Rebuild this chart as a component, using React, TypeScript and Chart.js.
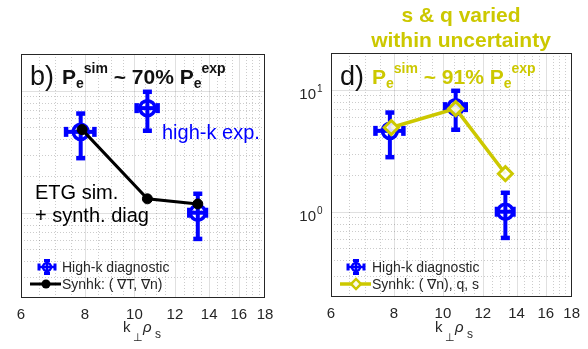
import React, { useEffect, useRef } from 'react';
import { Chart, registerables } from 'chart.js';
Chart.register(...registerables);

// ---------- data ----------
const xTicks = [6, 8, 10, 12, 14, 16, 18];
const xTickLabels = ['6', '8', '10', '12', '14', '16', '18'];
const xMinorGrid = [6.5, 7, 7.5, 8.5, 9, 9.5, 10.5, 11, 11.5, 12.5, 13, 13.5, 14.5, 15, 15.5, 16.5, 17, 17.5];
const yMajorGrid = [1, 10];
const yMinorGrid = [0.3, 0.4, 0.5, 0.6, 0.7, 0.8, 0.9, 2, 3, 4, 5, 6, 7, 8, 9];
const yTickValues = [1, 10];
const yTickExponents = ['0', '1'];

const kHighk = [7.85, 10.6, 13.3];
const pHighk = [4.6, 7.2, 1.0];
const pHighkLow = [2.8, 4.7, 0.61];
const pHighkHigh = [6.5, 9.8, 1.43];
const kHighkErr = [0.5, 0.5, 0.5];

const kSynB = [7.9, 10.6, 13.3];
const pSynB = [4.8, 1.3, 1.18];
const kSynD = [7.9, 10.6, 13.3];
const pSynD = [4.9, 7.0, 2.05];

// ---------- styles ----------
const FF = '"Liberation Sans", Arial, Helvetica, sans-serif';
const BLUE = '#0000ff';
const OLIVE = 'rgb(204,200,0)';
const INK = '#262626';

type Seg = { t: string; f: string; dy?: number; c?: string; x?: number };
function rich(ctx: CanvasRenderingContext2D, x: number, y: number, segs: Seg[], color: string) {
  let cx = x;
  ctx.textAlign = 'left';
  ctx.textBaseline = 'alphabetic';
  for (const s of segs) {
    if (s.x !== undefined) cx = s.x;
    ctx.font = s.f;
    ctx.fillStyle = s.c || color;
    ctx.fillText(s.t, cx, y + (s.dy || 0));
    cx += ctx.measureText(s.t).width;
  }
}

function line(ctx: CanvasRenderingContext2D, x1: number, y1: number, x2: number, y2: number) {
  ctx.beginPath();
  ctx.moveTo(x1, y1);
  ctx.lineTo(x2, y2);
  ctx.stroke();
}

function errIcon(ctx: CanvasRenderingContext2D, cx: number, cy: number) {
  ctx.strokeStyle = BLUE;
  ctx.lineWidth = 2.5;
  line(ctx, cx - 8, cy, cx + 8, cy);
  line(ctx, cx, cy - 6.5, cx, cy + 6.5);
  ctx.lineWidth = 3;
  line(ctx, cx - 8, cy - 3.5, cx - 8, cy + 3.5);
  line(ctx, cx + 8, cy - 3.5, cx + 8, cy + 3.5);
  line(ctx, cx - 3, cy - 6.5, cx + 3, cy - 6.5);
  line(ctx, cx - 3, cy + 6.5, cx + 3, cy + 6.5);
  ctx.lineWidth = 2.5;
  ctx.beginPath();
  ctx.arc(cx, cy, 4, 0, Math.PI * 2);
  ctx.stroke();
}

function axisTitle(ctx: CanvasRenderingContext2D, x: number) {
  rich(ctx, x, 332, [{ t: 'k', f: `15px ${FF}` }], INK);
  rich(ctx, x + 10, 341, [{ t: '⊥', f: `11px "DejaVu Sans", ${FF}` }], INK);
  rich(ctx, x + 20, 332, [{ t: 'ρ', f: `italic 15px ${FF}` }], INK);
  rich(ctx, x + 32, 338, [{ t: 's', f: `12px ${FF}` }], INK);
}

type Panel = {
  left: number;
  width: number;
  padTop: number;
  padRight: number;
  yAxisWidth: number;
  xAxisHeight: number;
  synK: number[];
  synP: number[];
  synColor: string;
  synStyle: string;
  synRadius: number;
  synBorder: number;
  synFill: string;
  synLineWidth: number;
  decorate: (ctx: CanvasRenderingContext2D, chart: any) => void;
};

function titleSegs(pct: string, lead: string, leadX: number): Seg[] {
  return [
    { t: lead, f: `27px ${FF}`, x: leadX, c: '#111', dy: 1 },
    { t: 'P', f: `bold 21px ${FF}`, x: leadX + 32 },
    { t: 'e', f: `bold 14px ${FF}`, dy: 4 },
    { t: 'sim', f: `bold 14px ${FF}`, dy: -11 },
    { t: ` ~ ${pct} `, f: `bold 21px ${FF}` },
    { t: 'P', f: `bold 21px ${FF}` },
    { t: 'e', f: `bold 14px ${FF}`, dy: 4 },
    { t: 'exp', f: `bold 14px ${FF}`, dy: -11 },
  ];
}

const panelB: Panel = {
  left: 0,
  width: 290,
  padTop: 54,
  padRight: 25,
  yAxisWidth: 21,
  xAxisHeight: 51,
  synK: kSynB,
  synP: pSynB,
  synColor: '#000000',
  synStyle: 'circle',
  synRadius: 5,
  synBorder: 1,
  synFill: '#000000',
  synLineWidth: 3,
  decorate: (ctx) => {
    rich(ctx, 0, 84, titleSegs('70%', 'b)', 30), '#111');
    rich(ctx, 162, 139, [{ t: 'high-k exp.', f: `20px ${FF}` }], BLUE);
    rich(ctx, 35, 199, [{ t: 'ETG sim.', f: `20px ${FF}` }], '#000');
    rich(ctx, 35, 222, [{ t: '+ synth. diag', f: `20px ${FF}` }], '#000');
    // legend
    errIcon(ctx, 47, 267);
    rich(ctx, 62, 272, [{ t: 'High-k diagnostic', f: `14px ${FF}` }], INK);
    ctx.strokeStyle = '#000';
    ctx.lineWidth = 3;
    line(ctx, 30, 284, 61, 284);
    ctx.fillStyle = '#000';
    ctx.beginPath();
    ctx.arc(46, 284, 4.5, 0, Math.PI * 2);
    ctx.fill();
    rich(ctx, 62, 289, [{ t: 'Synhk: ( ∇T, ∇n)', f: `14px ${FF}` }], INK);
    axisTitle(ctx, 123);
  },
};

const panelD: Panel = {
  left: 290,
  width: 298,
  padTop: 53,
  padRight: 10,
  yAxisWidth: 41,
  xAxisHeight: 52,
  synK: kSynD,
  synP: pSynD,
  synColor: OLIVE,
  synStyle: 'rectRot',
  synRadius: 7,
  synBorder: 3,
  synFill: 'rgba(255,255,255,0.85)',
  synLineWidth: 3.5,
  decorate: (ctx, chart) => {
    ctx.font = `bold 21px ${FF}`;
    ctx.fillStyle = OLIVE;
    ctx.textAlign = 'center';
    ctx.textBaseline = 'alphabetic';
    ctx.fillText('s & q varied', 461, 22);
    ctx.fillText('within uncertainty', 461, 47);
    rich(ctx, 0, 84, titleSegs('91%', 'd)', 340), OLIVE);
    // y tick labels
    const y = chart.scales.y;
    yTickValues.forEach((v, i) => {
      const py = y.getPixelForValue(v);
      ctx.font = `15px ${FF}`;
      ctx.fillStyle = INK;
      ctx.textAlign = 'right';
      ctx.fillText('10', 316, py + 9);
      ctx.font = `10px ${FF}`;
      ctx.textAlign = 'left';
      ctx.fillText(yTickExponents[i], 317, py + 2);
    });
    // legend
    errIcon(ctx, 356, 267);
    rich(ctx, 372, 272, [{ t: 'High-k diagnostic', f: `14px ${FF}` }], INK);
    ctx.strokeStyle = OLIVE;
    ctx.lineWidth = 3.5;
    line(ctx, 340, 284, 371, 284);
    ctx.save();
    ctx.translate(356, 284);
    ctx.rotate(Math.PI / 4);
    ctx.fillStyle = 'rgba(255,255,255,0.9)';
    ctx.fillRect(-3.5, -3.5, 7, 7);
    ctx.lineWidth = 2.5;
    ctx.strokeRect(-3.5, -3.5, 7, 7);
    ctx.restore();
    rich(ctx, 372, 289, [{ t: 'Synhk: ( ∇n), q, s', f: `14px ${FF}` }], INK);
    axisTitle(ctx, 435);
  },
};

function makePlugin(p: Panel) {
  return {
    id: 'panelDecor',
    beforeDatasetsDraw(chart: any) {
      const { ctx, chartArea: a, scales } = chart;
      const x = scales.x;
      const y = scales.y;
      ctx.save();
      ctx.beginPath();
      ctx.rect(a.left, a.top, a.right - a.left, a.bottom - a.top);
      ctx.clip();
      // minor grid (dotted)
      ctx.strokeStyle = 'rgba(0,0,0,0.2)';
      ctx.lineWidth = 1;
      ctx.setLineDash([1, 2]);
      xMinorGrid.forEach((v) => {
        const px = Math.round(x.getPixelForValue(v)) + 0.5;
        line(ctx, px, a.top, px, a.bottom);
      });
      yMinorGrid.forEach((v) => {
        const py = Math.round(y.getPixelForValue(v)) + 0.5;
        line(ctx, a.left, py, a.right, py);
      });
      // major grid (solid)
      ctx.setLineDash([]);
      ctx.strokeStyle = 'rgba(0,0,0,0.12)';
      xTicks.forEach((v) => {
        const px = Math.round(x.getPixelForValue(v)) + 0.5;
        line(ctx, px, a.top, px, a.bottom);
      });
      yMajorGrid.forEach((v) => {
        const py = Math.round(y.getPixelForValue(v)) + 0.5;
        line(ctx, a.left, py, a.right, py);
      });
      ctx.restore();

      // error bars of high-k data
      ctx.save();
      ctx.strokeStyle = BLUE;
      ctx.lineCap = 'butt';
      kHighk.forEach((k, i) => {
        const cx = x.getPixelForValue(k);
        const cy = y.getPixelForValue(pHighk[i]);
        const yt = y.getPixelForValue(pHighkHigh[i]);
        const yb = y.getPixelForValue(pHighkLow[i]);
        const xl = x.getPixelForValue(k - kHighkErr[i]);
        const xr = x.getPixelForValue(k + kHighkErr[i]);
        ctx.lineWidth = 4;
        line(ctx, cx, yt, cx, yb);
        line(ctx, xl, cy, xr, cy);
        ctx.lineWidth = 4.5;
        line(ctx, cx - 4.5, yt, cx + 4.5, yt);
        line(ctx, cx - 4.5, yb, cx + 4.5, yb);
        line(ctx, xl, cy - 5, xl, cy + 5);
        line(ctx, xr, cy - 5, xr, cy + 5);
      });
      ctx.restore();
    },
    afterDatasetsDraw(chart: any) {
      const { ctx, chartArea: a } = chart;
      ctx.save();
      ctx.strokeStyle = INK;
      ctx.lineWidth = 1;
      ctx.setLineDash([]);
      ctx.strokeRect(Math.round(a.left) + 0.5, Math.round(a.top) + 0.5, Math.round(a.right - a.left) - 1, Math.round(a.bottom - a.top) - 1);
      ctx.translate(-p.left, 0);
      p.decorate(ctx, chart);
      ctx.restore();
    },
  };
}

function PanelChart({ p }: { p: Panel }) {
  const ref = useRef<HTMLCanvasElement>(null);
  useEffect(() => {
    if (!ref.current) return;
    const chart = new Chart(ref.current, {
      type: 'line',
      data: {
        datasets: [
          {
            data: p.synK.map((k, i) => ({ x: k, y: p.synP[i] })),
            borderColor: p.synColor,
            borderWidth: p.synLineWidth,
            pointStyle: p.synStyle as any,
            pointRadius: p.synRadius,
            pointBorderWidth: p.synBorder,
            pointBorderColor: p.synColor,
            pointBackgroundColor: p.synFill,
            tension: 0,
          },
          {
            data: kHighk.map((k, i) => ({ x: k, y: pHighk[i] })),
            showLine: false,
            borderColor: BLUE,
            pointStyle: 'circle',
            pointRadius: 7.5,
            pointBorderWidth: 3.5,
            pointBorderColor: BLUE,
            pointBackgroundColor: 'rgba(0,0,0,0)',
          },
        ],
      },
      options: {
        responsive: false,
        animation: false,
        events: [],
        layout: { padding: { left: 0, top: p.padTop, right: p.padRight, bottom: 0 } },
        scales: {
          x: {
            type: 'logarithmic',
            min: 6,
            max: 18,
            afterBuildTicks: (s: any) => {
              s.ticks = xTicks.map((v) => ({ value: v }));
            },
            afterFit: (s: any) => {
              s.height = p.xAxisHeight;
            },
            ticks: {
              autoSkip: false,
              maxRotation: 0,
              padding: 8,
              color: INK,
              font: { family: FF, size: 15 },
              callback: (_v: any, i: number) => xTickLabels[i],
            },
            grid: { display: false, drawTicks: false },
            border: { display: false },
          },
          y: {
            type: 'logarithmic',
            min: 0.2,
            max: 20,
            afterFit: (s: any) => {
              s.width = p.yAxisWidth;
            },
            ticks: { display: false },
            grid: { display: false, drawTicks: false },
            border: { display: false },
          },
        },
        plugins: {
          legend: { display: false },
          tooltip: { enabled: false },
        },
      } as any,
      plugins: [makePlugin(p)],
    });
    return () => chart.destroy();
  }, [p]);
  return (
    <canvas
      ref={ref}
      width={p.width}
      height={349}
      style={{ position: 'absolute', left: p.left, top: 0, width: p.width, height: 349 }}
    />
  );
}

export default function App() {
  return (
    <div style={{ position: 'absolute', left: 0, top: 0, width: 588, height: 349, background: '#fff' }}>
      <PanelChart p={panelB} />
      <PanelChart p={panelD} />
    </div>
  );
}
